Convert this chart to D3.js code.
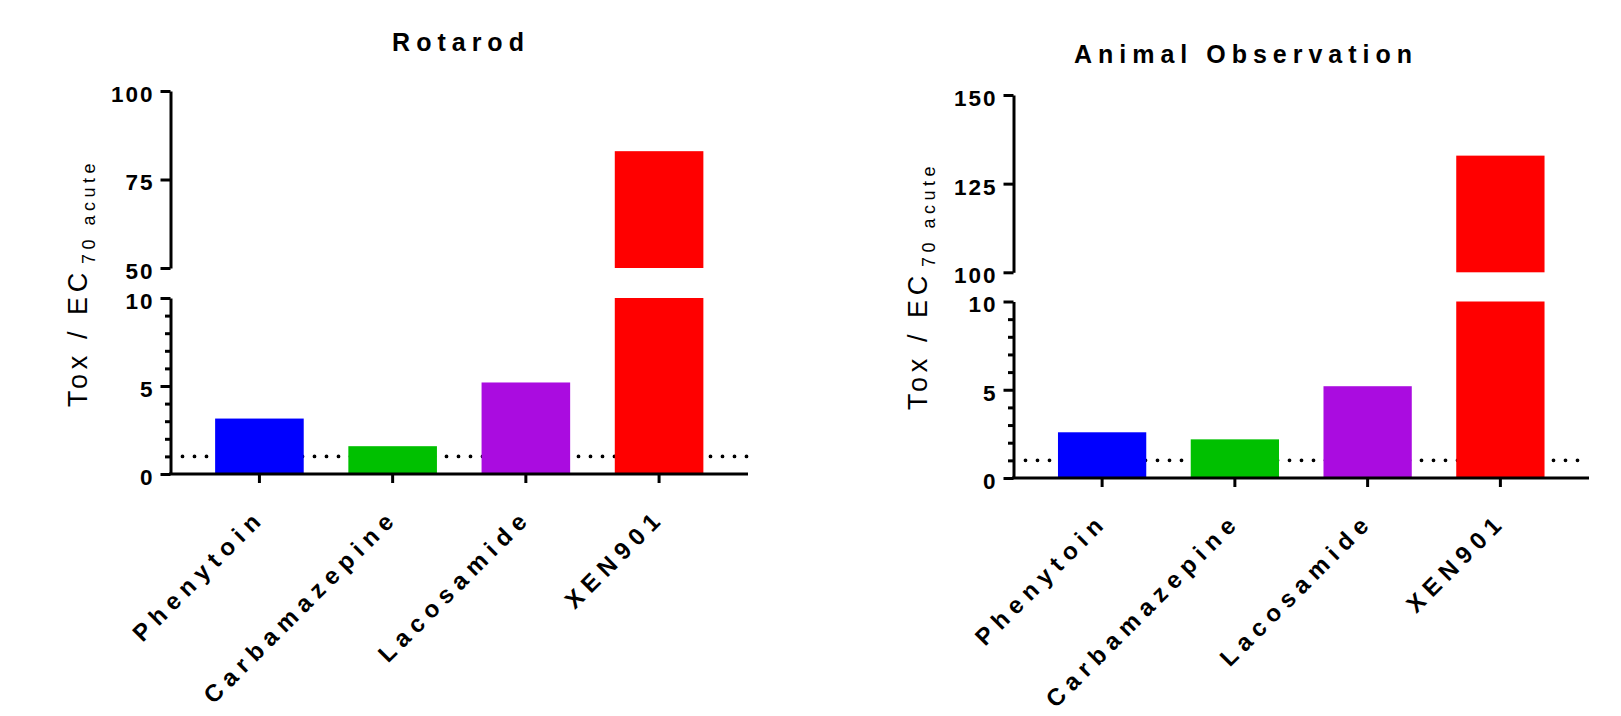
<!DOCTYPE html>
<html>
<head>
<meta charset="utf-8">
<script src="https://cdn.jsdelivr.net/npm/d3@7"></script>
<style>
  body { margin: 0; background: #fff; }
  svg { display: block; font-family: "Liberation Sans", Arial, sans-serif; }
  .axis path, .axis line { stroke: #000; stroke-width: 3; }
  .axis text { fill: #000; font-weight: bold; }
</style>
</head>
<body>
<div id="chart"></div>
<script>
const width = 1621,
  height = 716;

// data
const drugs = ["Phenytoin", "Carbamazepine", "Lacosamide", "XEN901"];
const barColors = ["#0000ff", "#00c000", "#aa0ce0", "#ff0000"];
const rotarodValues = [3.15, 1.58, 5.2, 83];
const observationValues = [2.59, 2.19, 5.2, 132.9];
const lowerTicks = [0, 5, 10];
const lowerMinorTicks = [1, 2, 3, 4, 6, 7, 8, 9];
const rotarodUpperTicks = [50, 75, 100];
const observationUpperTicks = [100, 125, 150];
const thresholdValue = 1;
const breakValue = 10;

// layout of the two panels
const panels = [
  {
    title: "Rotarod", values: rotarodValues, upperTicks: rotarodUpperTicks,
    x0: 170.5, x1: 748, y0: 474, y10: 298, yLo: 268, yHi: 91,
    titleX: 461, titleY: 51,
    labelX: 87, labelBottom: 407, subX: 95, subBottom: 264
  },
  {
    title: "Animal Observation", values: observationValues, upperTicks: observationUpperTicks,
    x0: 1013.5, x1: 1589, y0: 478, y10: 301.5, yLo: 272.3, yHi: 95,
    titleX: 1246, titleY: 63.3,
    labelX: 926.5, labelBottom: 410, subX: 935, subBottom: 267
  }
];

const svg = d3.select("#chart")
  .append("svg")
  .attr("width", width)
  .attr("height", height);

svg.append("rect")
  .attr("width", width)
  .attr("height", height)
  .attr("fill", "#fff");

panels.forEach(p => drawPanel(p));

function drawPanel(p) {
  const g = svg.append("g");

  const xScale = d3.scaleBand()
    .domain(drugs)
    .range([p.x0, p.x1])
    .padding(0.335);

  const yLower = d3.scaleLinear()
    .domain([0, breakValue])
    .range([p.y0, p.y10]);

  const yUpper = d3.scaleLinear()
    .domain(d3.extent(p.upperTicks))
    .range([p.yLo, p.yHi]);

  const color = d3.scaleOrdinal().domain(drugs).range(barColors);

  const data = drugs.map((d, i) => ({ drug: d, value: p.values[i] }));

  // threshold line (behind bars)
  g.append("line")
    .attr("x1", p.x0 + 12)
    .attr("x2", p.x1)
    .attr("y1", yLower(thresholdValue))
    .attr("y2", yLower(thresholdValue))
    .attr("stroke", "#000")
    .attr("stroke-width", 3.8)
    .attr("stroke-linecap", "round")
    .attr("stroke-dasharray", "0 12");

  // lower bars
  g.selectAll(".bar-lower")
    .data(data)
    .join("rect")
    .attr("class", "bar-lower")
    .attr("x", d => xScale(d.drug))
    .attr("width", xScale.bandwidth())
    .attr("y", d => yLower(Math.min(d.value, breakValue)))
    .attr("height", d => yLower(0) - yLower(Math.min(d.value, breakValue)))
    .attr("fill", d => color(d.drug));

  // upper bars (only values above the break)
  g.selectAll(".bar-upper")
    .data(data.filter(d => d.value > breakValue))
    .join("rect")
    .attr("class", "bar-upper")
    .attr("x", d => xScale(d.drug))
    .attr("width", xScale.bandwidth())
    .attr("y", d => yUpper(d.value))
    .attr("height", d => yUpper.range()[0] - yUpper(d.value))
    .attr("fill", d => color(d.drug));

  // y axis, lower segment
  const yAxisLower = g.append("g")
    .attr("class", "axis")
    .attr("transform", `translate(${p.x0},0)`)
    .call(d3.axisLeft(yLower).tickValues(lowerTicks).tickSize(10).tickSizeOuter(0).tickPadding(6));

  g.append("g")
    .attr("class", "axis minor")
    .attr("transform", `translate(${p.x0},0)`)
    .call(d3.axisLeft(yLower).tickValues(lowerMinorTicks).tickSize(5.5).tickFormat(""))
    .call(a => a.select(".domain").remove());

  // y axis, upper segment
  const yAxisUpper = g.append("g")
    .attr("class", "axis")
    .attr("transform", `translate(${p.x0},0)`)
    .call(d3.axisLeft(yUpper).tickValues(p.upperTicks).tickSize(10).tickSizeOuter(0).tickPadding(6));

  [yAxisLower, yAxisUpper].forEach(a => {
    a.selectAll("text")
      .attr("dy", "0.46em")
      .style("font-size", "22.5px")
      .style("letter-spacing", "2px");
  });

  // x axis
  const xAxis = g.append("g")
    .attr("class", "axis")
    .attr("transform", `translate(0,${p.y0})`)
    .call(d3.axisBottom(xScale).tickSize(9).tickSizeOuter(0));

  xAxis.select(".domain")
    .attr("d", `M${p.x0 - 1.5},0H${p.x1}`);

  xAxis.selectAll("text")
    .attr("x", 0)
    .attr("y", 0)
    .attr("dy", 0)
    .attr("text-anchor", "end")
    .attr("transform", "translate(7,45) rotate(-45)")
    .style("font-size", "24px")
    .style("letter-spacing", "6.6px");

  // title
  g.append("text")
    .attr("x", p.titleX)
    .attr("y", p.titleY)
    .attr("text-anchor", "middle")
    .style("font-size", "25px")
    .style("font-weight", "bold")
    .style("letter-spacing", "6px")
    .text(p.title);

  // y axis label: main part and subscript
  g.append("text")
    .attr("transform", `translate(${p.labelX},${p.labelBottom}) rotate(-90)`)
    .style("font-size", "27px")
    .style("letter-spacing", "4.6px")
    .text("Tox / EC");

  g.append("text")
    .attr("transform", `translate(${p.subX},${p.subBottom}) rotate(-90)`)
    .style("font-size", "18px")
    .style("letter-spacing", "4.5px")
    .text("70 acute");
}
</script>
</body>
</html>
